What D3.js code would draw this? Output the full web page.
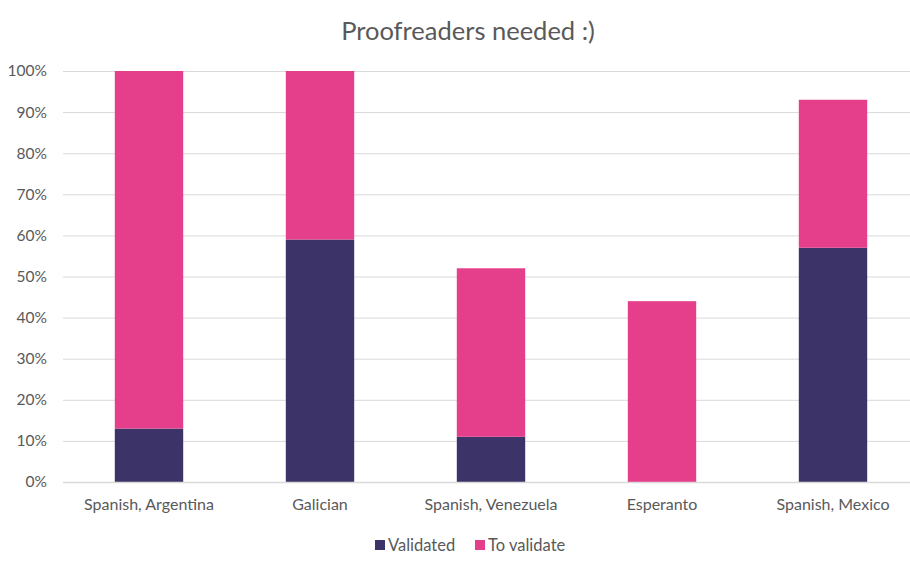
<!DOCTYPE html>
<html><head><meta charset="utf-8">
<script src="https://cdn.jsdelivr.net/npm/d3@7"></script>
<style>body{margin:0;background:#fff;} text{font-family:Lato,"Open Sans",sans-serif;fill:#595959;}</style>
</head><body><svg id="c" width="910" height="573"></svg>
<script>
const categories = ["Spanish, Argentina","Galician","Spanish, Venezuela","Esperanto","Spanish, Mexico"];
const validated = [13, 59, 11, 0, 57];
const toValidate = [87, 41, 41, 44, 36];
const seriesNames = ["Validated","To validate"];
const seriesColors = ["#3c3469","#e53e8a"];
const yTicks = [0,10,20,30,40,50,60,70,80,90,100];

const svg = d3.select("#c");
const W = 910, H = 573;
const x = d3.scaleBand().domain(categories).range([63.5, 918.5]).paddingInner(0.6).paddingOuter(0.3);
const y = d3.scaleLinear().domain([0,100]).range([482, 71]);

// gridlines
svg.append("g").selectAll("line").data(yTicks.filter(d=>d>0)).join("line")
  .attr("x1", 63).attr("x2", W).attr("y1", d=>y(d)+0.5).attr("y2", d=>y(d)+0.5)
  .attr("stroke", "#d9d9d9").attr("stroke-width", 1);

// stacked bars
const data = categories.map((c,i)=>({cat:c, Validated:validated[i], "To validate":toValidate[i]}));
const stack = d3.stack().keys(seriesNames)(data);
svg.append("g").selectAll("g").data(stack).join("g")
  .attr("fill", (d,i)=>seriesColors[i])
  .selectAll("rect").data(d=>d).join("rect")
  .attr("x", d=>x(d.data.cat)).attr("width", x.bandwidth())
  .attr("y", d=>y(d[1])).attr("height", d=>y(d[0])-y(d[1]));

// x axis line
svg.append("line").attr("x1",63).attr("x2",W).attr("y1",482.5).attr("y2",482.5)
  .attr("stroke","#d9d9d9").attr("stroke-width",1.5);

// y labels
const yAxis = d3.axisLeft(y).tickValues(yTicks).tickFormat(d=>d+"%").tickSize(0).tickPadding(0);
const ya = svg.append("g").attr("transform","translate(47,0)").call(yAxis);
ya.select(".domain").remove();
ya.selectAll("text").attr("font-size",15.5).attr("fill","#595959").style("font-family","Lato, sans-serif");

// x labels
const xAxis = d3.axisBottom(x).tickSize(0).tickPadding(0);
const xa = svg.append("g").attr("transform","translate(0,499)").call(xAxis);
xa.select(".domain").remove();
xa.selectAll("text").attr("font-size",16).attr("fill","#595959").attr("dy","0.71em").style("font-family","Lato, sans-serif");

// title
svg.append("text").attr("x",468).attr("y",40).attr("text-anchor","middle")
  .attr("font-size",25.5).text("Proofreaders needed :)");

// legend
const legX = [375, 475];
const lg = svg.append("g").selectAll("g").data(seriesNames).join("g")
  .attr("transform",(d,i)=>`translate(${legX[i]},540)`);
lg.append("rect").attr("width",10).attr("height",10).attr("fill",(d,i)=>seriesColors[i]);
lg.append("text").attr("x",13).attr("y",5).attr("dy","0.35em").attr("font-size",16.5).text(d=>d);
</script></body></html>
